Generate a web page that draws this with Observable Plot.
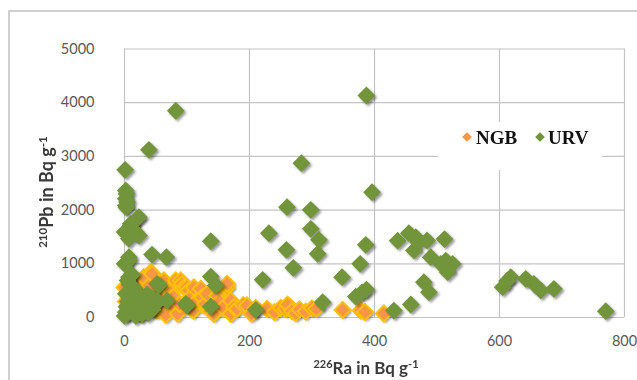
<!DOCTYPE html>
<html><head><meta charset="utf-8">
<script src="https://cdn.jsdelivr.net/npm/d3@7"></script>
<script src="https://cdn.jsdelivr.net/npm/@observablehq/plot@0.6"></script>
<style>
body{margin:0;background:#fff;overflow:hidden}
#wrap{position:relative;width:637px;height:380px}
</style></head><body><div id="wrap"></div>
<script>
const seriesNames = ["NGB", "URV"];
const xTicks = [0, 200, 400, 600, 800];
const yTicks = [0, 1000, 2000, 3000, 4000, 5000];

const ngbX = [0,2,5,8,12,18,22,26,28,31,36,40,42,44,42,48,52,57,60,63,66,66,70,74,78,79,82,85,88,90,92,95,100,103,106,110,111,115,122,124,127,129,132,138,143,148,152,158,164,164,170,170,175,180,190,196,203,210,228,240,250,258,261,268,274,280,290,300,307,349,378,385,415];
const ngbY = [560,300,120,420,650,250,560,69,690,750,200,600,844,814,316,470,130,500,190,690,450,50,300,471,380,192,690,70,250,690,627,560,565,503,378,130,560,300,534,378,223,250,440,120,69,410,300,180,565,627,316,70,192,162,230,223,70,180,162,100,180,160,240,120,80,150,110,170,160,140,130,100,74];

const urvX = [387,82,39,1,283,396,2,3,2,4,2,3,23,20,10,10,15,4,0,23,7,260,298,231,298,311,138,259,309,270,44,67,7,7,0,386,377,348,370,380,387,431,458,437,455,466,463,470,484,490,512,506,514,517,525,479,487,605,618,612,642,655,666,687,770,221,138,146,317,138,210,52,98,7,2,5,10,12,26,36,16,5,0,26,52,68,3,10,20,30,40,45,55,15,8,20,33,45,50,5,12,2,18,28,38,100];
const urvY = [4134,3850,3122,2750,2873,2333,2365,2300,2210,2150,2085,2050,1868,1840,1745,1720,1620,1620,1590,1527,1466,2055,2005,1570,1652,1447,1420,1260,1186,925,1173,1123,1123,1061,1000,1354,1000,750,390,470,520,130,242,1430,1569,1495,1248,1400,1434,1123,1460,1000,1061,844,1000,657,471,565,750,680,720,627,503,534,117,702,763,596,285,205,143,627,255,750,441,690,503,800,378,430,260,70,30,130,316,316,200,350,100,250,200,350,596,550,620,450,300,150,250,300,180,100,30,60,80,223];

const ngb = ngbX.map((x, i) => ({x, y: ngbY[i], s: seriesNames[0]}));
const urv = urvX.map((x, i) => ({x, y: urvY[i], s: seriesNames[1]}));

const ORANGE = "#F79646", GOLD = "#FFC000", GREEN = "#72953b";
const FONT = "Lato, 'Open Sans', sans-serif";

const plot = Plot.plot({
  width: 637, height: 380,
  marginLeft: 124, marginRight: 13, marginTop: 48.5, marginBottom: 63,
  x: {domain: [0, 800], ticks: xTicks, tickSize: 0, tickPadding: 18, tickFormat: d => String(d), label: null},
  y: {domain: [0, 5000], ticks: yTicks, tickSize: 0, tickPadding: 30, tickFormat: d => String(d), label: null},
  style: {fontFamily: FONT, fontSize: "14.5px", color: "#595959", background: "white", overflow: "visible"},
  marks: [
    Plot.ruleX(xTicks, {stroke: "#c4c4c4", strokeWidth: 1.2}),
    Plot.ruleY(yTicks, {stroke: "#c4c4c4", strokeWidth: 1.2}),
    Plot.dot(ngb, {x: "x", y: "y", symbol: "diamond2", r: 7.2, fill: "#000", fillOpacity: 0.35, dx: 2, dy: 2}),
    Plot.dot(ngb, {x: "x", y: "y", symbol: "diamond2", r: 7.2, fill: ORANGE, stroke: GOLD, strokeWidth: 2}),
    Plot.dot(urv, {x: "x", y: "y", symbol: "diamond2", r: 8, fill: "#000", fillOpacity: 0.4, dx: 2, dy: 2}),
    Plot.dot(urv, {x: "x", y: "y", symbol: "diamond2", r: 8, fill: GREEN})
  ]
});

document.getElementById("wrap").appendChild(plot);
const svg = d3.select(plot);

// shadow blur
const defs = svg.insert("defs", ":first-child");
defs.append("filter").attr("id", "blur").attr("x", "-50%").attr("y", "-50%").attr("width", "200%").attr("height", "200%")
  .append("feGaussianBlur").attr("stdDeviation", 1.3);
const dotGroups = plot.querySelectorAll('g[aria-label="dot"]');
dotGroups[0].setAttribute("filter", "url(#blur)");
dotGroups[2].setAttribute("filter", "url(#blur)");

// outer chart frame
svg.append("rect").attr("x", 9).attr("y", 11).attr("width", 700).attr("height", 400)
  .attr("fill", "none").attr("stroke", "#cfcfcf").attr("stroke-width", 2);

// axis titles
const xt = svg.append("text").attr("x", 366).attr("y", 374).attr("text-anchor", "middle")
  .attr("font-family", FONT).attr("font-weight", "bold").attr("font-size", 17).attr("fill", "#3a3a3a");
xt.append("tspan").attr("font-size", 11).attr("dy", -6).text("226");
xt.append("tspan").attr("dy", 6).text("Ra in Bq g");
xt.append("tspan").attr("font-size", 11).attr("dy", -6).text("-1");

const yt = svg.append("text").attr("transform", "translate(53,192) rotate(-90)").attr("text-anchor", "middle")
  .attr("font-family", FONT).attr("font-weight", "bold").attr("font-size", 18).attr("fill", "#3a3a3a");
yt.append("tspan").attr("font-size", 11.5).attr("dy", -6).text("210");
yt.append("tspan").attr("dy", 6).text("Pb in Bq g");
yt.append("tspan").attr("font-size", 11.5).attr("dy", -6).text("-1");

// legend
const lg = svg.append("g");
lg.append("rect").attr("x", 438).attr("y", 122).attr("width", 164).attr("height", 48).attr("fill", "white");
const items = [{name: seriesNames[0], color: ORANGE, cx: 467, tx: 476}, {name: seriesNames[1], color: GREEN, cx: 540, tx: 548}];
for (const it of items) {
  lg.append("path").attr("d", d3.symbol(d3.symbolDiamond2, 60)()).attr("transform", `translate(${it.cx},137)`).attr("fill", it.color);
  lg.append("text").attr("x", it.tx).attr("y", 143.5).attr("text-anchor", "start").attr("font-family", "'Liberation Serif', 'Times New Roman', serif")
    .attr("font-weight", "bold").attr("font-size", 19).attr("fill", "#111").text(it.name);
}
</script>
</body></html>
